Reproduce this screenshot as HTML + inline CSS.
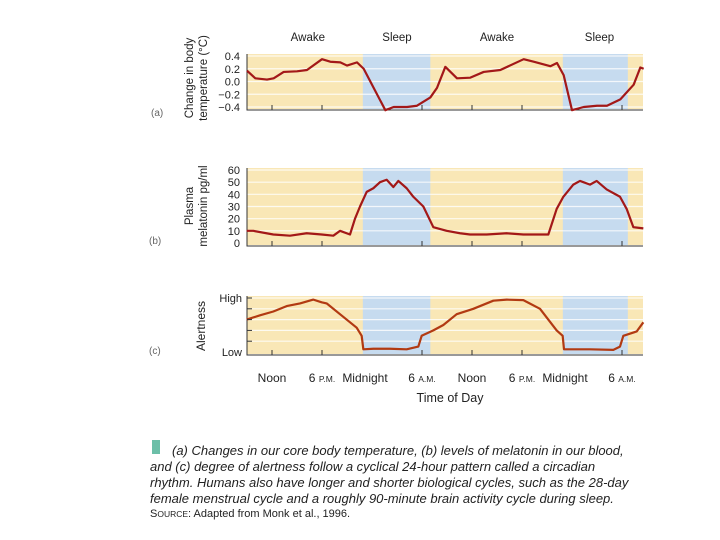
<!DOCTYPE html>
<html><head><meta charset="utf-8"><style>
body{margin:0;width:720px;height:540px;background:#fff;overflow:hidden;font-family:"Liberation Sans",sans-serif}
svg{position:absolute;left:0;top:0}
.cap{position:absolute;left:172px;font-size:13px;color:#222;white-space:nowrap;font-style:italic}
</style></head><body>
<svg width="720" height="540" id="s"></svg>
<div style="position:absolute;left:152px;top:440px;width:8px;height:14px;background:#6cbfa8"></div>
<div class="cap" style="top:443px">(a) Changes in our core body temperature, (b) levels of melatonin in our blood,</div>
<div class="cap" style="top:459px;left:150px">and (c) degree of alertness follow a cyclical 24-hour pattern called a circadian</div>
<div class="cap" style="top:475px;left:150px">rhythm. Humans also have longer and shorter biological cycles, such as the 28-day</div>
<div class="cap" style="top:491px;left:150px">female menstrual cycle and a roughly 90-minute brain activity cycle during sleep.</div>
<div class="cap" style="top:508px;left:150px;font-style:normal;font-size:11px">S<span style="font-size:8.5px">OURCE</span>: Adapted from Monk et al., 1996.</div>
<script>
const tempHours=[9,10,11.4,12.2,13.4,15,16.2,18,19,20.2,21,22.2,23,24.2,25.6,26.6,28.2,29.4,31,31.8,32.8,34.2,35.8,37.4,39.4,42.2,43.4,45.4,46.2,47,48,49.4,51,52.2,53.8,55.4,56.2,56.6];
const tempVals=[0.17,0.05,0.03,0.05,0.15,0.16,0.18,0.35,0.31,0.3,0.25,0.3,0.2,-0.1,-0.45,-0.4,-0.4,-0.38,-0.25,-0.1,0.23,0.05,0.06,0.15,0.18,0.35,0.31,0.24,0.29,0.1,-0.45,-0.4,-0.38,-0.38,-0.28,-0.05,0.22,0.2];
const melZx=[320,340,400,450,500,545,580,600,630,645,660,680,700,720,740,760,775,800,820,850,880,920,960,990,1040,1100,1150,1180,1225,1250,1270,1300,1320,1350,1370,1400,1440,1460,1480,1510];
const melVals=[10,10,7,6,8,7,6,10,7,20,30,42,45,50,52,46,51,45,38,30,13,10,8,7,7,8,7,7,7,28,38,48,51,48,51,44,38,28,13,12];
const alZx=[320,360,400,440,480,520,545,560,600,650,665,670,700,750,800,835,845,880,910,950,1000,1060,1100,1150,1200,1250,1268,1272,1300,1350,1420,1440,1450,1490,1510];
const alVals=[0.6,0.68,0.75,0.85,0.9,0.97,0.92,0.9,0.7,0.45,0.3,0.05,0.06,0.06,0.05,0.1,0.3,0.4,0.5,0.7,0.8,0.95,0.97,0.96,0.8,0.4,0.3,0.05,0.05,0.05,0.04,0.1,0.3,0.38,0.55];
const sleepStart=[22.9,46.9], sleepEnd=[31,54.7];
const tickHours=[12,18,30,36,42,54];
const labelHours=[12,18,24,30,36,42,48,54];
const xLabels=["Noon","6 P.M.","Midnight","6 A.M.","Noon","6 P.M.","Midnight","6 A.M."];
const topLabels=["Awake","Sleep","Awake","Sleep"], topHours=[16.3,27,39,51.3];
const melHours=melZx.map(z=>z*0.04-3.84), alHours=alZx.map(z=>z*0.04-3.84);
const NS="http://www.w3.org/2000/svg", svg=document.getElementById('s');
const X=h=>247+(h-9)*50/6;
function el(t,a,p){const e=document.createElementNS(NS,t);for(const k in a)e.setAttribute(k,a[k]);(p||svg).appendChild(e);return e;}
function panel(name,top,bot,ymin,ymax,grid,hours,vals,color){
  const Y=v=>bot-(v-ymin)/(ymax-ymin)*(bot-top);
  let r=el('rect',{x:247,y:top-2,width:396,height:bot-top+4,fill:'#f9e7b6'});
  
  for(let i=0;i<2;i++){let b=el('rect',{x:X(sleepStart[i]),y:top-2,width:X(sleepEnd[i])-X(sleepStart[i]),height:bot-top+4,fill:'#c6dbef'});
    }
  grid.forEach(g=>{let l=el('line',{x1:247,x2:643,y1:Y(g),y2:Y(g),stroke:'#fff','stroke-width':1.2,opacity:0.8});
    });
  let ax=el('path',{d:`M247,${top-2}V${bot+3}H643`,stroke:'#333',fill:'none','stroke-width':1});
  
  tickHours.forEach(h=>{let t=el('line',{x1:X(h),x2:X(h),y1:bot+3,y2:bot-2,stroke:'#333'});
    });
  let p=el('polyline',{points:hours.map((h,i)=>X(h)+','+Y(vals[i])).join(' '),fill:'none',stroke:color,'stroke-width':2.2,'stroke-linejoin':'round'});
  
  return Y;
}
function txt(s,a,name){const t=el('text',Object.assign({'font-size':12,fill:'#222'},a));t.textContent=s;
  return t;}
const tg=[-0.4,-0.2,0,0.2,0.4];
const Ya=panel('temperature',56,107,-0.4,0.4,tg,tempHours,tempVals,'#a31818');
tg.forEach(v=>txt(v.toFixed(1).replace('-','\u2212'),{x:240,y:Ya(v)+4,'text-anchor':'end','font-size':11},'temp-y-tick-label'));
const mg=[0,10,20,30,40,50,60];
const Yb=panel('melatonin',170,243,0,60,mg.slice(1),melHours,melVals,'#a31818');
mg.forEach(v=>txt(String(v),{x:240,y:Yb(v)+4,'text-anchor':'end','font-size':11},'melatonin-y-tick-label'));
const ag=[0.2,0.4,0.6,0.8,1];
const Yc=panel('alertness',298,352,0,1,ag,alHours,alVals,'#b23a12');
ag.forEach(v=>{let t=el('line',{x1:247,x2:252,y1:Yc(v),y2:Yc(v),stroke:'#333'});});
txt('High',{x:242,y:302,'text-anchor':'end','font-size':11},'alertness-high-label');
txt('Low',{x:242,y:356,'text-anchor':'end','font-size':11},'alertness-low-label');
topHours.forEach((h,i)=>txt(topLabels[i],{x:X(h),y:41,'text-anchor':'middle','font-size':11.5},'phase-label'));
labelHours.forEach((h,i)=>{const s=xLabels[i];const m=s.match(/^(6) (.*)$/);
  if(m){const t=txt('',{x:X(h),y:382,'text-anchor':'middle','font-size':12},'x-tick-label');
    const a=el('tspan',{},t);a.textContent='6 ';const b=el('tspan',{'font-size':8.5},t);b.textContent=m[2];}
  else txt(s,{x:X(h)-(s==='Midnight'?7:0),y:382,'text-anchor':'middle','font-size':12},'x-tick-label');});
txt('Time of Day',{x:450,y:402,'text-anchor':'middle','font-size':12.5},'x-axis-title');
txt('(a)',{x:151,y:116,'font-size':10,fill:'#666'},'panel-a-label');
txt('(b)',{x:149,y:244,'font-size':10,fill:'#666'},'panel-b-label');
txt('(c)',{x:149,y:354,'font-size':10,fill:'#666'},'panel-c-label');
txt('Change in body',{transform:'translate(193,78) rotate(-90)','text-anchor':'middle','font-size':11.5},'temp-y-title-1');
txt('temperature (°C)',{transform:'translate(207,78) rotate(-90)','text-anchor':'middle','font-size':11.5},'temp-y-title-2');
txt('Plasma',{transform:'translate(193,206) rotate(-90)','text-anchor':'middle','font-size':11.5},'melatonin-y-title-1');
txt('melatonin pg/ml',{transform:'translate(207,206) rotate(-90)','text-anchor':'middle','font-size':11.5},'melatonin-y-title-2');
txt('Alertness',{transform:'translate(205,326) rotate(-90)','text-anchor':'middle','font-size':12},'alertness-y-title');
</script>
</body></html>
